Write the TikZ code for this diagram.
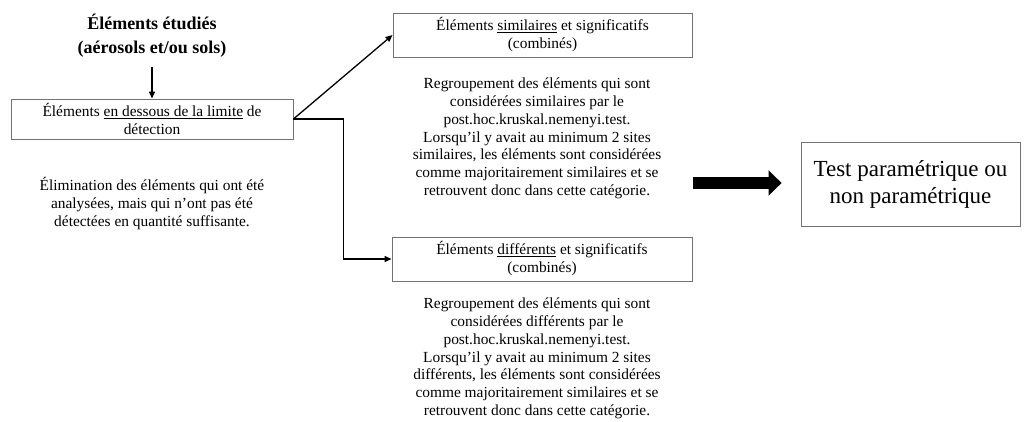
\documentclass[tikz,border=0pt]{standalone}
\usepackage{fontspec}
\setmainfont{Liberation Serif}
\usetikzlibrary{arrows.meta}
\begin{document}
\begin{tikzpicture}[x=1pt,y=-1pt,
  box/.style={draw=black!55, line width=0.9pt, inner sep=0pt, align=center,
    font=\fontsize{15.4}{18}\selectfont},
  body/.style={inner sep=0pt, align=center, font=\fontsize{15.4}{17.8}\selectfont},
  conn/.style={line width=1.3pt, -{Triangle[length=7pt,width=6pt]}}]
\useasboundingbox (0,0) rectangle (1029,422);
\node[inner sep=0pt, align=center, font=\bfseries\fontsize{18}{24}\selectfont] (title) at (152,36)
  {Éléments étudiés\\(aérosols et/ou sols)};
\coordinate (t0) at (152,67);
\node[box, minimum width=282pt, minimum height=40pt] (b1) at (152,119)
  {Éléments \underline{en dessous de la limite} de\\détection};
\node[body] (l1) at (152,203.5)
  {Élimination des éléments qui ont été\\analysées, mais qui n’ont pas été\\détectées en quantité suffisante.};
\node[box, minimum width=299pt, minimum height=44pt] (b2) at (542.5,35)
  {Éléments \underline{similaires} et significatifs\\(combinés)};
\node[body] (l2) at (537,138.5)
  {Regroupement des éléments qui sont\\considérées similaires par le\\post.hoc.kruskal.nemenyi.test.\\Lorsqu’il y avait au minimum 2 sites\\similaires, les éléments sont considérées\\comme majoritairement similaires et se\\retrouvent donc dans cette catégorie.};
\node[box, minimum width=300pt, minimum height=44pt] (b3) at (542,259)
  {Éléments \underline{différents} et significatifs\\(combinés)};
\node[body] (l3) at (537,358.5)
  {Regroupement des éléments qui sont\\considérées différents par le\\post.hoc.kruskal.nemenyi.test.\\Lorsqu’il y avait au minimum 2 sites\\différents, les éléments sont considérées\\comme majoritairement similaires et se\\retrouvent donc dans cette catégorie.};
\node[box, minimum width=219pt, minimum height=84pt, font=\fontsize{23}{27}\selectfont] (b4) at (910.5,184)
  {Test paramétrique ou\\non paramétrique};
\coordinate (a0) at (693,183);
\draw[conn] (t0) -- (b1.north);
\draw[conn] (b1.east) -- (b2.west);
\draw[conn] (b1.east) -- ++(50,0) |- (b3.west);
\draw[line width=12pt, -{Triangle[length=13pt,width=25pt]}, shorten >=19pt] (a0) -- (a0 -| b4.west);
\end{tikzpicture}
\end{document}
